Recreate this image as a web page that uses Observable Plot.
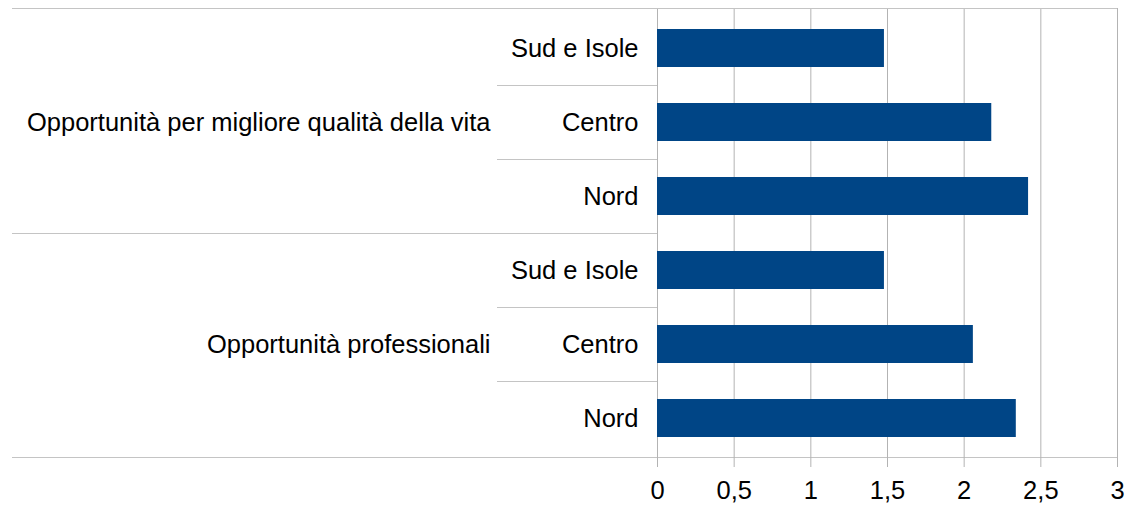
<!DOCTYPE html>
<html><head><meta charset="utf-8">
<script src="https://cdn.jsdelivr.net/npm/d3@7"></script>
<script src="https://cdn.jsdelivr.net/npm/@observablehq/plot@0.6"></script>
<style>body{margin:0;background:#fff} svg{display:block}</style>
</head><body><div id="chart"></div>
<script>
const groups = ["Opportunità per migliore qualità della vita", "Opportunità professionali"];
const regions = ["Sud e Isole", "Centro", "Nord"];
const qualitaVita = [1.48, 2.18, 2.42];
const professionali = [1.48, 2.06, 2.34];
const xTicks = [0, 0.5, 1, 1.5, 2, 2.5, 3];
const tickLabels = ["0", "0,5", "1", "1,5", "2", "2,5", "3"];

const seriesByGroup = [qualitaVita, professionali];
const rows = groups.flatMap((g, gi) => regions.map((r, ri) => ({
  group: g, region: r, key: g + "|" + r, value: seriesByGroup[gi][ri]
})));
const keys = rows.map(d => d.key);
const midRegion = regions[1];

const FONT = "'Liberation Sans', Arial, sans-serif";
const FS = 25.5;
const GRID = "#b3b3b3";
const LINE = "#c4c4c4";

function frameLines(index, scales, values, dims) {
  const y = scales.y;
  const bw = y.bandwidth ? y.bandwidth() : 0;
  const top = dims.marginTop, bottom = dims.height - dims.marginBottom;
  const xLeftFull = 12, xRight = dims.width - dims.marginRight, x0 = dims.marginLeft;
  const xSep = x0 - 160;
  const g = d3.create("svg:g").attr("stroke", LINE).attr("stroke-width", 1).attr("fill", "none");
  const hline = (yy, xa, xb) => g.append("line").attr("x1", xa).attr("x2", xb)
    .attr("y1", Math.round(yy) + 0.5).attr("y2", Math.round(yy) + 0.5);
  hline(top, xLeftFull, xRight);
  for (let i = 0; i < keys.length - 1; i++) {
    const b = (y(keys[i]) + bw + y(keys[i + 1])) / 2;
    const sameGroup = rows[i].group === rows[i + 1].group;
    hline(b, sameGroup ? xSep : xLeftFull, x0);
  }
  hline(bottom, xLeftFull, xRight);
  return g.node();
}

const plot = Plot.plot({
  width: 1126,
  height: 505,
  marginLeft: 657,
  marginRight: 9,
  marginTop: 8,
  marginBottom: 48,
  style: {fontFamily: FONT, fontSize: FS + "px", color: "#000", background: "#fff"},
  x: {domain: [0, 3], axis: null},
  y: {domain: keys, paddingInner: 0.49, paddingOuter: 0.245, axis: null},
  marks: [
    Plot.ruleX(xTicks, {stroke: GRID, strokeWidth: 1}),
    frameLines,
    Plot.barX(rows, {x: "value", y: "key", fill: "#004586"}),
    Plot.axisX({ticks: xTicks, tickFormat: (d) => tickLabels[xTicks.indexOf(d)], tickSize: 10, tickPadding: 13,
      stroke: GRID, fontSize: FS, fill: "#000", label: null}),
    Plot.axisY({tickFormat: (k) => k.split("|")[1], tickSize: 0, tickPadding: 19, fontSize: FS, fill: "#000", label: null}),
    Plot.text(groups, {y: (g) => g + "|" + midRegion, text: (d) => d, frameAnchor: "left",
      textAnchor: "end", dx: -167, fontSize: FS, fill: "#000"})
  ]
});
document.getElementById("chart").appendChild(plot);
</script>
</body></html>
